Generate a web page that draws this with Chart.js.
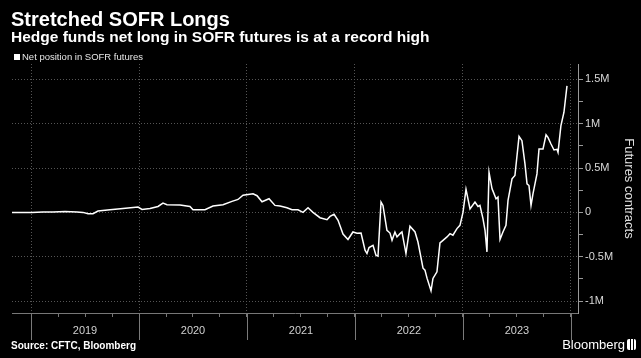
<!DOCTYPE html>
<html>
<head>
<meta charset="utf-8">
<style>
  html, body { margin: 0; padding: 0; background: #000; }
  body { width: 641px; height: 358px; position: relative; overflow: hidden;
         font-family: "Liberation Sans", Arial, sans-serif; color: #fff; }
  #chart { position: absolute; left: 0; top: 0; }
  .title { position: absolute; left: 11px; top: 9px; font-size: 20px; line-height: 20px; font-weight: bold; }
  .subtitle { position: absolute; left: 11px; top: 29px; font-size: 15.5px; line-height: 15px; font-weight: bold; }
  .legend { position: absolute; left: 14px; top: 51px; font-size: 9.5px; line-height: 11px; color: #e6e6e6; }
  .legend i { display: inline-block; width: 6px; height: 6px; background: #fff; margin-right: 2px; vertical-align: 0; }
  .source { position: absolute; left: 11px; top: 340px; font-size: 10px; line-height: 12px; font-weight: bold; }
  .brand { position: absolute; right: 16px; top: 337px; font-size: 13px; line-height: 16px; }
  .logo { position: absolute; right: 5px; top: 339px; width: 9px; height: 11px; border-radius: 2px;
          background: linear-gradient(90deg, #fff 0 3px, #000 3px 4px, #fff 4px 6px, #000 6px 7px, #fff 7px); }
</style>
</head>
<body>
<canvas id="chart" width="641" height="358"></canvas>
<div class="title">Stretched SOFR Longs</div>
<div class="subtitle">Hedge funds net long in SOFR futures is at a record high</div>
<div class="legend"><i></i>Net position in SOFR futures</div>
<div class="source">Source: CFTC, Bloomberg</div>
<div class="brand">Bloomberg</div>
<div class="logo"></div>

<script src="https://cdn.jsdelivr.net/npm/chart.js"></script>
<script>
// dates as decimal years, net position in millions of contracts
const dates = [
  2018.824, 2018.917, 2019.006, 2019.111, 2019.204, 2019.315, 2019.426, 2019.481, 2019.528, 2019.574,
  2019.620, 2019.731, 2019.852, 2019.991, 2020.028, 2020.102, 2020.176, 2020.222, 2020.259, 2020.380,
  2020.472, 2020.500, 2020.611, 2020.685, 2020.778, 2020.861, 2020.917, 2020.963, 2021.056, 2021.093,
  2021.139, 2021.204, 2021.259, 2021.306, 2021.370, 2021.417, 2021.472, 2021.519, 2021.565, 2021.611,
  2021.676, 2021.741, 2021.769, 2021.806, 2021.843, 2021.889, 2021.935, 2021.981, 2022.019, 2022.056,
  2022.093, 2022.111, 2022.130, 2022.167, 2022.194, 2022.213, 2022.241, 2022.259, 2022.296, 2022.324,
  2022.343, 2022.370, 2022.389, 2022.417, 2022.435, 2022.472, 2022.509, 2022.556, 2022.583, 2022.630,
  2022.648, 2022.667, 2022.704, 2022.722, 2022.759, 2022.787, 2022.815, 2022.852, 2022.880, 2022.907,
  2022.944, 2022.972, 2023.000, 2023.028, 2023.065, 2023.111, 2023.139, 2023.157, 2023.185, 2023.204,
  2023.222, 2023.241, 2023.269, 2023.278, 2023.306, 2023.324, 2023.343, 2023.370, 2023.398, 2023.417,
  2023.454, 2023.481, 2023.519, 2023.546, 2023.574, 2023.593, 2023.611, 2023.630, 2023.648, 2023.685,
  2023.704, 2023.741, 2023.769, 2023.787, 2023.815, 2023.843, 2023.870, 2023.880, 2023.907, 2023.935,
  2023.963
];
const netPosition = [
  0.000, 0.000, 0.000, 0.005, 0.005, 0.010, 0.004, 0.000, -0.015, -0.015,
  0.015, 0.030, 0.045, 0.060, 0.034, 0.045, 0.067, 0.104, 0.087, 0.082,
  0.067, 0.030, 0.030, 0.071, 0.087, 0.124, 0.146, 0.194, 0.210, 0.188,
  0.120, 0.154, 0.079, 0.071, 0.052, 0.030, 0.030, 0.000, 0.052, 0.000,
  -0.060, -0.082, -0.045, -0.022, -0.090, -0.245, -0.305, -0.221, -0.236, -0.233,
  -0.427, -0.464, -0.397, -0.371, -0.483, -0.494, 0.116, 0.079, -0.202, -0.233,
  -0.315, -0.221, -0.277, -0.240, -0.221, -0.464, -0.157, -0.221, -0.334, -0.629,
  -0.652, -0.742, -0.884, -0.745, -0.670, -0.345, -0.315, -0.277, -0.240, -0.258,
  -0.183, -0.146, 0.000, 0.260, 0.040, 0.116, 0.067, 0.079, -0.071, -0.202,
  -0.446, 0.453, 0.266, 0.240, 0.154, 0.172, -0.306, -0.221, -0.146, 0.135,
  0.378, 0.416, 0.857, 0.809, 0.547, 0.322, 0.303, 0.079, 0.210, 0.434,
  0.715, 0.715, 0.876, 0.846, 0.771, 0.704, 0.711, 0.677, 0.980, 1.130,
  1.427
];
const yearLabels = ['2019', '2020', '2021', '2022', '2023'];
const yTicks = [-1, -0.75, -0.5, -0.25, 0, 0.25, 0.5, 0.75, 1, 1.25, 1.5];

const firstYear = Number(yearLabels[0]);
const lastYear = Number(yearLabels[yearLabels.length - 1]) + 1;
const xTicks = [];
for (let q = firstYear * 4; q <= lastYear * 4; q++) xTicks.push(q / 4);

const isYear = v => Number.isInteger(v);
const isMajor = v => Number.isInteger(v * 2);

// solid year separators running down through the label band
const yearSeparators = {
  id: 'yearSeparators',
  afterDraw(chart) {
    const { ctx, chartArea, scales: { x } } = chart;
    ctx.save();
    ctx.strokeStyle = '#7a7a7a';
    ctx.lineWidth = 1;
    xTicks.filter(isYear).forEach(v => {
      const px = Math.round(x.getPixelForValue(v)) + 0.5;
      ctx.beginPath();
      ctx.moveTo(px, chartArea.bottom);
      ctx.lineTo(px, chartArea.bottom + 27);
      ctx.stroke();
    });
    ctx.restore();
  }
};

new Chart(document.getElementById('chart'), {
  type: 'line',
  data: {
    datasets: [{
      label: 'Net position in SOFR futures',
      data: dates.map((d, i) => ({ x: d, y: netPosition[i] })),
      borderColor: '#ffffff',
      borderWidth: 1.5,
      pointRadius: 0,
      tension: 0
    }]
  },
  options: {
    responsive: false,
    animation: false,
    layout: { padding: { top: 64, left: 12, right: 0, bottom: 16 } },
    plugins: { legend: { display: false }, tooltip: { enabled: false } },
    scales: {
      x: {
        type: 'linear',
        min: 2018.824,
        max: 2024.065,
        afterBuildTicks: axis => { axis.ticks = xTicks.map(v => ({ value: v })); },
        afterFit: axis => { axis.height = 29; },
        grid: {
          color: c => isYear(c.tick.value) ? '#555' : 'transparent',
          tickColor: '#777',
          tickLength: 4
        },
        border: { display: true, color: '#777', dash: [1, 2] },
        ticks: {
          autoSkip: false,
          maxRotation: 0,
          padding: 7,
          labelOffset: 54,
          color: '#d0d0d0',
          font: { family: 'Liberation Sans', size: 11 },
          callback: v => (isYear(v) && yearLabels.includes(String(v))) ? String(v) : ''
        }
      },
      y: {
        position: 'right',
        min: -1.135,
        max: 1.674,
        afterBuildTicks: axis => { axis.ticks = yTicks.map(v => ({ value: v })); },
        afterFit: axis => { axis.width = 63; },
        grid: {
          color: c => isMajor(c.tick.value) ? '#555' : 'transparent',
          tickColor: '#999',
          tickLength: 5
        },
        border: { display: true, color: '#999', dash: [1, 2] },
        ticks: {
          padding: 2,
          color: '#d8d8d8',
          font: { family: 'Liberation Sans', size: 11 },
          callback: v => isMajor(v) ? (v === 0 ? '0' : v + 'M') : ''
        },
        title: {
          display: true,
          text: 'Futures contracts',
          color: '#e0e0e0',
          padding: { top: 5, bottom: 5 },
          font: { family: 'Liberation Sans', size: 13 }
        }
      }
    }
  },
  plugins: [yearSeparators]
});
</script>
</body>
</html>
